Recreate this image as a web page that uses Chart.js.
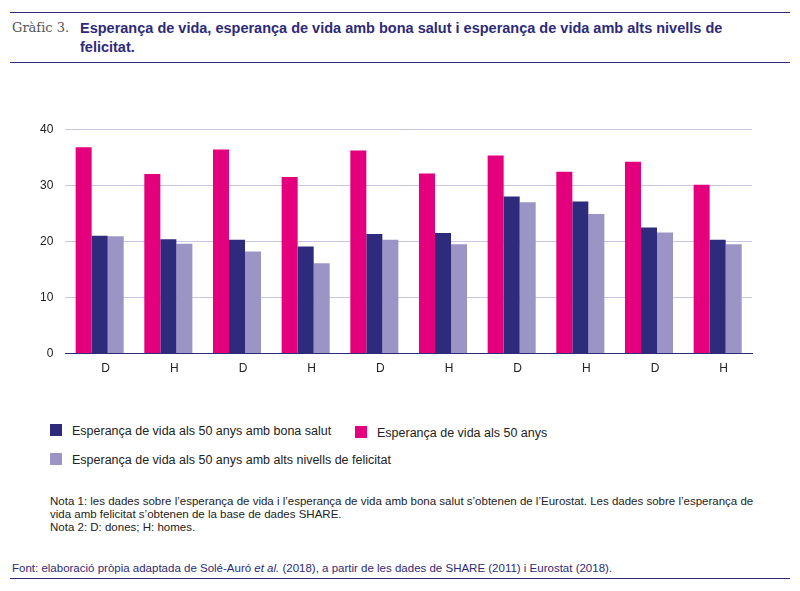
<!DOCTYPE html>
<html lang="ca">
<head>
<meta charset="UTF-8">
<script src="https://cdn.jsdelivr.net/npm/chart.js"></script>
<style>
  body { margin:0; width:800px; height:591px; background:#fff; font-family:"Liberation Sans", Arial, sans-serif; position:relative; overflow:hidden; }
  .topline { position:absolute; left:10px; right:10px; top:12px; border-top:1.5px solid #2e2a78; }
  .midline { position:absolute; left:10px; right:10px; top:62px; border-top:1.5px solid #2e2a78; }
  .botline { position:absolute; left:10px; right:10px; top:578px; border-top:1.5px solid #2e2a78; }
  .num { position:absolute; left:12px; top:20px; font-family:"DejaVu Serif", serif; font-size:13px; color:#555; }
  .title { position:absolute; left:80px; top:19px; width:680px; font-weight:bold; font-size:14.5px; line-height:19px; color:#2e2a78; }
  #wrap { position:absolute; left:0; top:110px; width:800px; height:290px; }
  .leg { position:absolute; font-size:12.5px; color:#222; }
  .sw { display:inline-block; width:12px; height:12px; margin-right:10px; vertical-align:-1px; }
  .notes { position:absolute; left:50px; top:495px; width:720px; font-size:11.5px; line-height:13px; color:#222; }
  .font { position:absolute; left:12px; top:562px; font-size:11.5px; color:#2e2a78; }
</style>
</head>
<body>
<div class="topline"></div>
<div class="num">Gràfic 3.</div>
<div class="title">Esperança de vida, esperança de vida amb bona salut i esperança de vida amb alts nivells de felicitat.</div>
<div class="midline"></div>
<div id="wrap"><canvas id="c"></canvas></div>
<div class="leg" style="left:50px;top:424px"><span class="sw" style="background:#2e2a7c"></span>Esperança de vida als 50 anys amb bona salut</div>
<div class="leg" style="left:355px;top:426px"><span class="sw" style="background:#e4007c"></span>Esperança de vida als 50 anys</div>
<div class="leg" style="left:50px;top:453px"><span class="sw" style="background:#9b95c6"></span>Esperança de vida als 50 anys amb alts nivells de felicitat</div>
<div class="notes">Nota 1: les dades sobre l’esperança de vida i l’esperança de vida amb bona salut s’obtenen de l’Eurostat. Les dades sobre l’esperança de vida amb felicitat s’obtenen de la base de dades SHARE.<br>Nota 2: D: dones; H: homes.</div>
<div class="font">Font: elaboració pròpia adaptada de Solé-Auró <i>et al.</i> (2018), a partir de les dades de SHARE (2011) i Eurostat (2018).</div>
<div class="botline"></div>
<script>
const sexes = ['D','H','D','H','D','H','D','H','D','H'];
const countries = ['Espanya','França','Itàlia','Suècia','Alemanya'];
const lifeExp = [36.8, 32.0, 36.4, 31.5, 36.2, 32.1, 35.3, 32.4, 34.2, 30.1];
const healthy = [21.0, 20.4, 20.3, 19.1, 21.3, 21.5, 28.0, 27.1, 22.5, 20.3];
const happy = [20.9, 19.6, 18.2, 16.1, 20.3, 19.5, 27.0, 24.9, 21.6, 19.5];
const yTicks = [0, 10, 20, 30, 40];

const countryLabels = {
  id: 'countryLabels',
  afterDraw(chart) {
    const ctx = chart.ctx, x = chart.scales.x;
    ctx.save();
    ctx.font = '12px "Liberation Sans", Arial, sans-serif';
    ctx.fillStyle = '#222';
    ctx.textAlign = 'center';
    countries.forEach((c, i) => {
      const cx = (x.getPixelForValue(i*2) + x.getPixelForValue(i*2+1)) / 2;
      ctx.fillText(c, cx, x.bottom + 37);
    });
    ctx.restore();
  }
};

new Chart(document.getElementById('c'), {
  type: 'bar',
  data: {
    labels: sexes,
    datasets: [
      { data: lifeExp, backgroundColor: '#e4007c' },
      { data: healthy, backgroundColor: '#2e2a7c' },
      { data: happy, backgroundColor: '#9b95c6' }
    ]
  },
  options: {
    responsive: true, maintainAspectRatio: false, animation: false,
    layout: { padding: { left: 28, right: 48, top: 12, bottom: 16 } },
    plugins: { legend: { display: false }, tooltip: { enabled: false } },
    datasets: { bar: { categoryPercentage: 0.7, barPercentage: 1.0 } },
    scales: {
      x: {
        grid: { display: false, drawTicks: false },
        border: { color: '#2e2a78', width: 1 },
        ticks: { color: '#222', font: { size: 12 }, padding: 8, labelOffset: 6 }
      },
      y: {
        min: 0, max: 40,
        afterBuildTicks: s => { s.ticks = yTicks.map(v => ({ value: v })); },
        grid: { color: '#c9c5e2', drawTicks: false },
        border: { display: false },
        ticks: { color: '#222', font: { size: 12 }, padding: 12 }
      }
    }
  },
  plugins: [countryLabels]
});
</script>
</body>
</html>
